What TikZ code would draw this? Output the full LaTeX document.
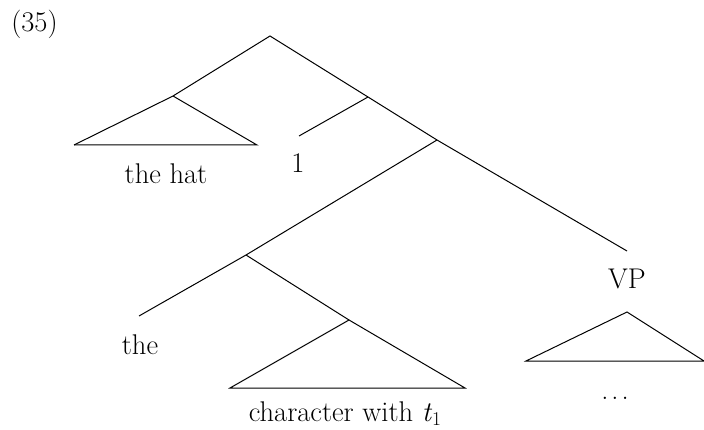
\documentclass[tikz,border=0pt]{standalone}
\usepackage{fontspec}
\setmainfont{Latin Modern Roman}
\begin{document}
\begin{tikzpicture}[x=1pt,y=-1pt,
  edge/.style={line width=1pt,black},
  lab/.style={anchor=base,inner sep=0pt,font=\fontsize{28.5}{32}\selectfont}]
\useasboundingbox (0,0) rectangle (704,430);
% tree points
\coordinate (root) at (270,36);
\coordinate (dp) at (173,96);
\coordinate (hatL) at (74,145);
\coordinate (hatR) at (257,145);
\coordinate (r1) at (368,97);
\coordinate (one) at (299,136);
\coordinate (r2) at (437,140);
\coordinate (vpT) at (627,251);
\coordinate (d2) at (246,255);
\coordinate (theT) at (139,316);
\coordinate (np) at (349,320);
\coordinate (npL) at (230,388);
\coordinate (npR) at (465,388);
\coordinate (vpA) at (627,312);
\coordinate (vpL) at (526,361);
\coordinate (vpR) at (704,361);
% labels
\node[lab] (ex) at (34.5,32) {(35)};
\node[lab] (thehat) at (166,184) {the hat};
\node[lab] (onelab) at (298,173) {1};
\node[lab] (the) at (140,354) {the};
\node[lab] (vp) at (627,289) {VP};
\node[lab] (dots) at (615,399) {.\kern3pt.\kern3pt.};
\node[lab] (char) at (345,421) {character with \textit{t}\raisebox{-0.15em}{\fontsize{19.5}{20}\selectfont 1}};
% edges
\draw[edge] (hatL) -- (dp) -- (root) -- (r1) -- (r2) -- (vpT);
\draw[edge] (dp) -- (hatR) -- (hatL);
\draw[edge] (r1) -- (one);
\draw[edge] (r2) -- (d2) -- (theT);
\draw[edge] (d2) -- (np);
\draw[edge] (npL) -- (np) -- (npR) -- cycle;
\draw[edge] (vpL) -- (vpA) -- (vpR) -- cycle;
\end{tikzpicture}
\end{document}
